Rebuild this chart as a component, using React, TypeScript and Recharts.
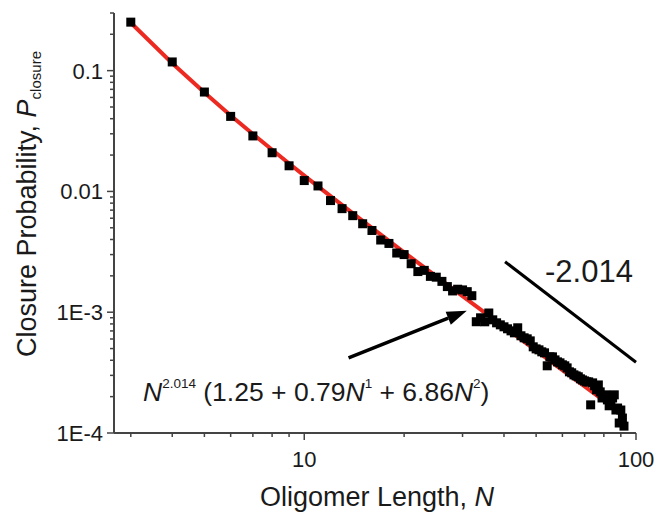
import React from 'react';
import { ComposedChart, Scatter, XAxis, YAxis, ReferenceLine } from 'recharts';

// oligomer length N for each simulated point
const N_VALUES = [
  3, 4, 5, 6, 7, 8, 9, 10, 11, 12, 13, 14, 15, 16, 17, 18, 19, 20, 21, 22,
  23, 24, 25, 26, 27, 28, 29, 30, 31, 32, 33, 34, 35, 36, 37, 38, 39, 40, 41, 42,
  43, 44, 45, 46, 47, 48, 49, 50, 51, 52, 53, 54, 55, 56, 57, 58, 59, 60, 61, 62,
  63, 64, 65, 66, 67, 68, 69, 70, 71, 72, 73, 74, 75, 76, 77, 78, 79, 80, 81, 82,
  83, 84, 85, 86, 87, 88, 89, 90, 91, 92,
];

// closure probability
const P_VALUES = [
  0.252, 0.118, 0.0665, 0.0418, 0.0288, 0.0209, 0.0163, 0.0123, 0.0111, 0.0084,
  0.0072, 0.0063, 0.0054, 0.00475, 0.00396, 0.00371, 0.00309, 0.003, 0.00252, 0.00217,
  0.00222, 0.00198, 0.00195, 0.0018, 0.00163, 0.0015, 0.00155, 0.00153, 0.00148, 0.00137,
  0.000834, 0.000899, 0.000833, 0.000985, 0.000865, 0.000817, 0.000786, 0.000757, 0.000729, 0.000701,
  0.000675, 0.000743, 0.000638, 0.000614, 0.000602, 0.000579, 0.000517, 0.000497, 0.000488, 0.00047,
  0.000461, 0.00036, 0.000427, 0.000427, 0.000403, 0.000388, 0.000381, 0.000367, 0.00036, 0.000346,
  0.000321, 0.000315, 0.000303, 0.000297, 0.000292, 0.000281, 0.000275, 0.00027, 0.000265, 0.000265,
  0.000171, 0.00026, 0.000246, 0.000228, 0.00025, 0.000219, 0.000195, 0.000203, 0.000207, 0.000188,
  0.000168, 0.000174, 0.000195, 0.000207, 0.000155, 0.000161, 0.000121, 0.000155, 0.000133, 0.000114,
];

// red fitted curve, sampled along its length
const FIT_N = [3, 4, 5, 6, 7, 8, 9, 10, 12, 15, 20, 25, 30, 40, 50, 60, 70, 80, 92];
const FIT_P = [
  0.249, 0.1152, 0.0658, 0.0426, 0.02985, 0.0221, 0.01703, 0.01353, 0.00914, 0.005703,
  0.003132, 0.001978, 0.00136, 0.000756, 0.00048, 0.000332, 0.0002427, 0.0001855, 0.0001396,
];

const X_MAJOR = [10, 100];
const X_MINOR = [3, 4, 5, 6, 7, 8, 9, 20, 30, 40, 50, 60, 70, 80, 90];
const Y_MAJOR = [0.0001, 0.001, 0.01, 0.1];
const Y_LABELS = ['1E-4', '1E-3', '0.01', '0.1'];
const Y_MINOR = [
  0.0002, 0.0003, 0.0004, 0.0005, 0.0006, 0.0007, 0.0008, 0.0009,
  0.002, 0.003, 0.004, 0.005, 0.006, 0.007, 0.008, 0.009,
  0.02, 0.03, 0.04, 0.05, 0.06, 0.07, 0.08, 0.09, 0.2, 0.3,
];

// arrow and slope guide, in data units
const ARROW = [{ n: 13.6, p: 0.000419 }, { n: 30.9, p: 0.001027 }];
const SLOPE = [{ n: 40.3, p: 0.002617 }, { n: 100, p: 0.000385 }];

const FONT = '"Liberation Sans", Arial, sans-serif';
const AXIS = '#444';
const RED = '#ec2a22';

const points = N_VALUES.map((n, i) => ({ n, p: P_VALUES[i] }));
const fit = FIT_N.map((n, i) => ({ n, p: FIT_P[i] }));

function XTick({ x, y, payload }: any) {
  const i = X_MAJOR.indexOf(payload.value);
  const major = i >= 0;
  return (
    <g>
      <line x1={x} x2={x} y1={y} y2={y + (major ? 7 : 4)} stroke={AXIS} strokeWidth={1.5} />
      {major && (
        <text x={x} y={y + 34} textAnchor="middle" fontSize={22} fill="#1a1a1a" fontFamily={FONT}>
          {payload.value}
        </text>
      )}
    </g>
  );
}

function YTick({ x, y, payload }: any) {
  const i = Y_MAJOR.indexOf(payload.value);
  const major = i >= 0;
  return (
    <g>
      <line x1={x - (major ? 7 : 4)} x2={x} y1={y} y2={y} stroke={AXIS} strokeWidth={1.5} />
      {major && (
        <text x={x - 11} y={y + 8} textAnchor="end" fontSize={22} fill="#1a1a1a" fontFamily={FONT}>
          {Y_LABELS[i]}
        </text>
      )}
    </g>
  );
}

function Square({ cx, cy }: any) {
  if (cx == null || cy == null) return null;
  return <rect x={cx - 4.5} y={cy - 4.5} width={9} height={9} fill="#000" />;
}

function Arrow({ x1, y1, x2, y2 }: any) {
  const dx = x2 - x1;
  const dy = y2 - y1;
  const len = Math.sqrt(dx * dx + dy * dy);
  const ux = dx / len;
  const uy = dy / len;
  const bx = x2 - ux * 20;
  const by = y2 - uy * 20;
  const head = `${x2},${y2} ${bx - uy * 7},${by + ux * 7} ${bx + uy * 7},${by - ux * 7}`;
  return (
    <g>
      <line x1={x1} y1={y1} x2={bx} y2={by} stroke="#000" strokeWidth={3.5} />
      <polygon points={head} fill="#000" />
    </g>
  );
}

export default function App() {
  return (
    <div style={{ position: 'absolute', left: 0, top: 0, width: 657, height: 512, background: '#fff' }}>
      <ComposedChart width={657} height={512} margin={{ top: 13, right: 21, bottom: 39, left: 34 }}>
        <XAxis
          dataKey="n"
          type="number"
          scale="log"
          domain={[2.67, 100]}
          allowDataOverflow
          ticks={[...X_MINOR, ...X_MAJOR]}
          interval={0}
          tickSize={0}
          tickMargin={0}
          tickLine={false}
          tick={<XTick />}
          axisLine={{ stroke: AXIS, strokeWidth: 2 }}
          height={40}
        />
        <YAxis
          dataKey="p"
          type="number"
          scale="log"
          domain={[0.0001, 0.3]}
          allowDataOverflow
          ticks={[...Y_MINOR, ...Y_MAJOR]}
          interval={0}
          tickSize={0}
          tickMargin={0}
          tickLine={false}
          tick={<YTick />}
          axisLine={{ stroke: AXIS, strokeWidth: 2 }}
          width={80}
        />
        <Scatter
          data={fit}
          line={{ stroke: RED, strokeWidth: 4 }}
          shape={() => <g />}
          isAnimationActive={false}
        />
        <Scatter data={points} shape={<Square />} isAnimationActive={false} />
        <ReferenceLine
          segment={[{ x: ARROW[0].n, y: ARROW[0].p }, { x: ARROW[1].n, y: ARROW[1].p }]}
          shape={<Arrow />}
          ifOverflow="visible"
        />
        <ReferenceLine
          segment={[{ x: SLOPE[0].n, y: SLOPE[0].p }, { x: SLOPE[1].n, y: SLOPE[1].p }]}
          stroke="#000"
          strokeWidth={3}
          ifOverflow="visible"
        />
      </ComposedChart>
      <svg
        width={657}
        height={512}
        style={{ position: 'absolute', left: 0, top: 0, pointerEvents: 'none' }}
        fontFamily={FONT}
        fill="#1a1a1a"
      >
        <text x={36} y={204} transform="rotate(-90 36 204)" textAnchor="middle" fontSize={27}>
          Closure Probability, <tspan fontStyle="italic">P</tspan>
          <tspan fontSize={15} dy={5}>closure</tspan>
        </text>
        <text x={377} y={506} textAnchor="middle" fontSize={27}>
          Oligomer Length, <tspan fontStyle="italic">N</tspan>
        </text>
        <text x={545} y={282} fontSize={31}>-2.014</text>
        <text x={143} y={401} fontSize={26.5}>
          <tspan fontStyle="italic">N</tspan>
          <tspan fontSize={13.5} dy={-13}>2.014</tspan>
          <tspan dy={13}> (1.25 + 0.79</tspan>
          <tspan fontStyle="italic">N</tspan>
          <tspan fontSize={13.5} dy={-13}>1</tspan>
          <tspan dy={13}> + 6.86</tspan>
          <tspan fontStyle="italic">N</tspan>
          <tspan fontSize={13.5} dy={-13}>2</tspan>
          <tspan dy={13}>)</tspan>
        </text>
      </svg>
    </div>
  );
}
